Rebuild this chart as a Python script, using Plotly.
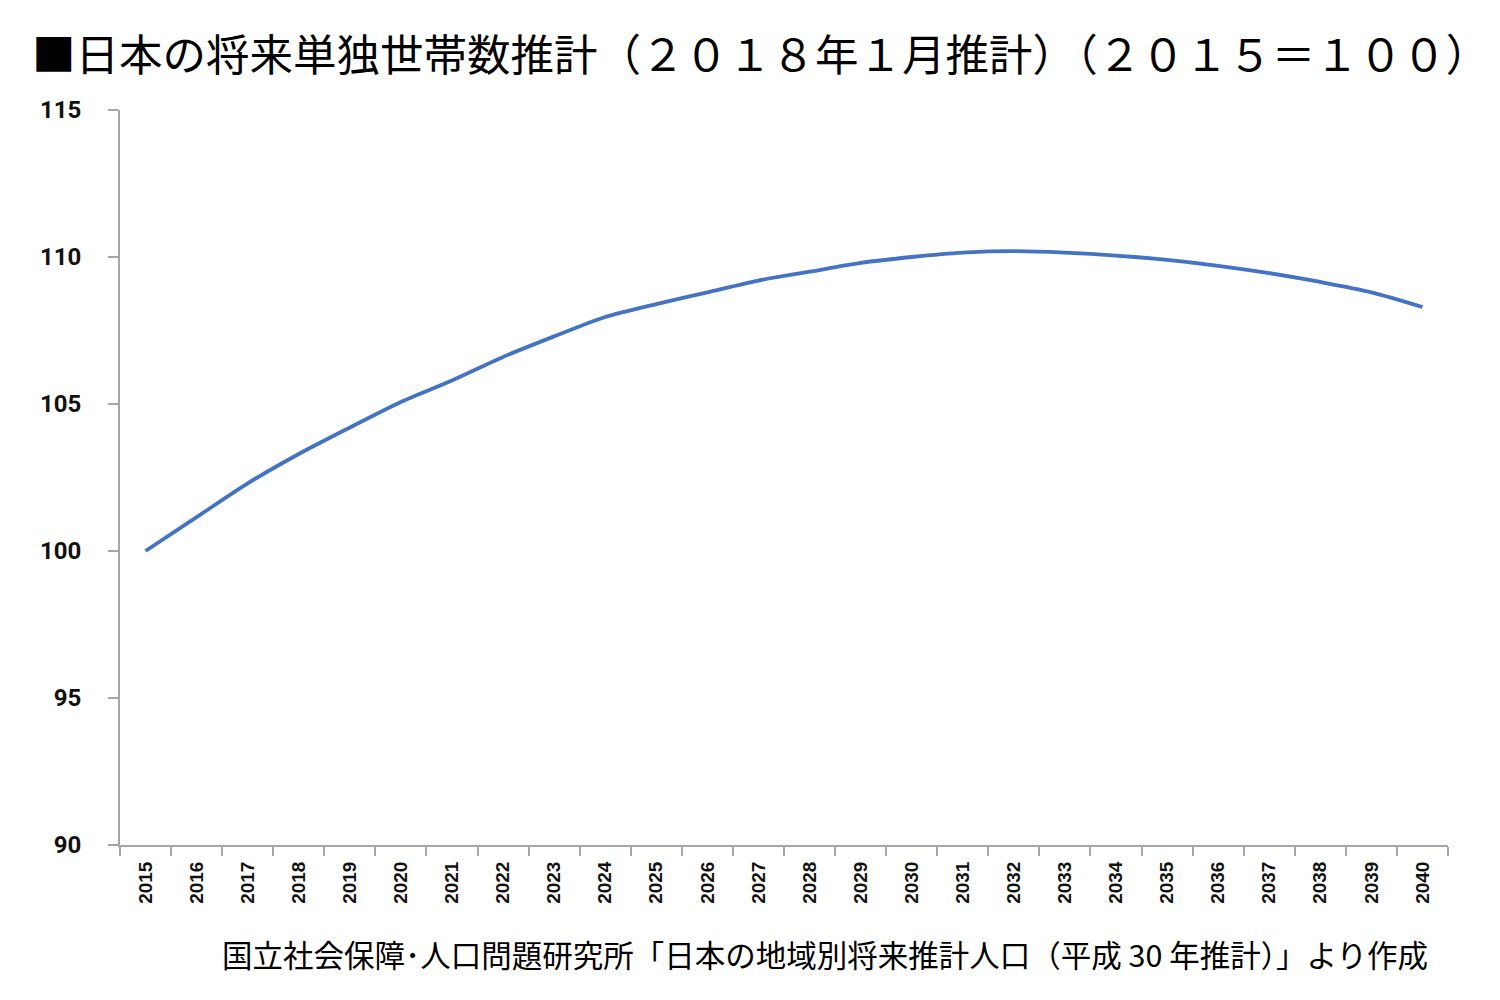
import plotly.graph_objects as go

years = [str(y) for y in range(2015, 2041)]
values = [100.0, 101.15, 102.3, 103.3, 104.2, 105.07, 105.8, 106.6, 107.3, 107.96,
          108.4, 108.8, 109.2, 109.5, 109.8, 110.0, 110.15, 110.2, 110.15, 110.05,
          109.9, 109.7, 109.45, 109.15, 108.8, 108.3]
y_ticks = [90, 95, 100, 105, 110, 115]

title_text = "■日本の将来単独世帯数推計（２０１８年１月推計）（２０１５＝１００）"
source_text = "国立社会保障･人口問題研究所「日本の地域別将来推計人口（平成 30 年推計）」より作成"

# page offset of 8px body margin is compensated in the figure size / margins
W, H = 1492, 992
L, T, R, B = 112, 102, 52, 155
PW, PH = W - L - R, H - T - B

fig = go.Figure()
fig.add_trace(go.Scatter(
    x=years, y=values, mode="lines",
    line=dict(color="#4472C4", width=3.8, shape="spline", smoothing=0.8),
    showlegend=False, hoverinfo="x+y",
))

fig.update_layout(
    width=W, height=H,
    margin=dict(l=L, r=R, t=T, b=B, autoexpand=False),
    paper_bgcolor="white", plot_bgcolor="white",
    showlegend=False,
)

fig.update_xaxes(
    type="category", range=[-0.5, 25.5], automargin=False,
    showgrid=False, zeroline=False,
    showline=True, linecolor="#A6A6A6", linewidth=2,
    ticks="outside", tickson="boundaries", ticklen=9, tickcolor="#A6A6A6", tickwidth=2,
    tickangle=-90, ticklabelstandoff=7,
    tickfont=dict(family="Liberation Sans", size=19, color="#111111", weight="bold"),
)
fig.update_yaxes(
    range=[90, 115], tickvals=y_ticks, automargin=False,
    showgrid=False, zeroline=False,
    showline=True, linecolor="#A6A6A6", linewidth=2,
    ticks="outside", ticklen=10, tickcolor="#A6A6A6", tickwidth=2,
    tickfont=dict(family="Roboto", size=24, color="#111111", weight="bold"),
    ticklabelstandoff=22,
)

fig.add_annotation(
    text=title_text, xref="paper", yref="paper",
    x=(22 - L) / PW, y=1 + (T - 45) / PH,
    xanchor="left", yanchor="middle", showarrow=False,
    font=dict(family="Noto Sans CJK JP", size=43.5, color="#000000"),
)
fig.add_annotation(
    text=source_text, xref="paper", yref="paper",
    x=(1422 - L) / PW, y=(H - B - 946) / PH,
    xanchor="right", yanchor="middle", showarrow=False,
    font=dict(family="Noto Sans CJK JP", size=30.5, color="#000000"),
)

fig.write_html("out.html")
